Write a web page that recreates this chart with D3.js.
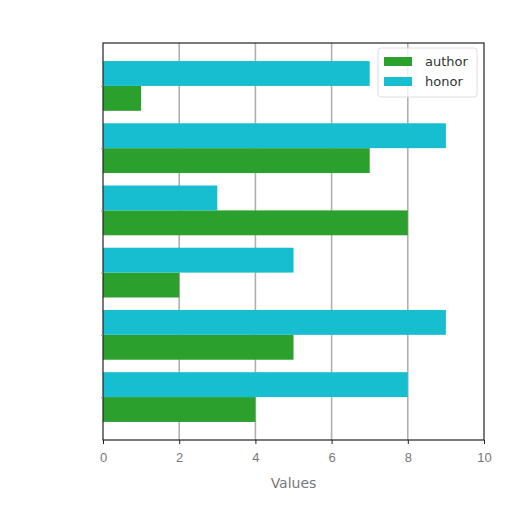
<!DOCTYPE html>
<html>
<head>
<meta charset="utf-8">
<script src="https://cdn.jsdelivr.net/npm/d3@7"></script>
<style>
  body { margin: 0; background: #fff; }
  svg { display: block; font-family: "DejaVu Sans", sans-serif; }
</style>
</head>
<body>
<div class="chart"></div>
<script>
// categories from bottom (index 0) to top
const categories = ["c0", "c1", "c2", "c3", "c4", "c5"];
const authorValues = [4, 5, 2, 8, 7, 1];
const honorValues = [8, 9, 5, 3, 9, 7];
const xTicks = [0, 2, 4, 6, 8, 10];
const seriesNames = ["author", "honor"];
const seriesColors = ["#2ca02c", "#17becf"];

const margin = {top: 43, right: 28, bottom: 72, left: 103};
const width = 512 - margin.left - margin.right,
      height = 512 - margin.top - margin.bottom;

const svg = d3.select(".chart").append("svg")
  .attr("width", 512)
  .attr("height", 512);

const g = svg.append("g")
  .attr("transform", "translate(" + margin.left + "," + margin.top + ")");

const x = d3.scaleLinear().domain([0, 10]).range([0, width]);
// matplotlib style: positions -0.4 .. n-0.6 with 5% margins
const n = categories.length;
const lo = -0.4, hi = n - 1 + 0.4, pad = (hi - lo) * 0.05;
const y = d3.scaleLinear().domain([lo - pad, hi + pad]).range([height, 0]);
const barH = 0.4;

// grid
g.selectAll(".grid")
  .data(xTicks.slice(1, -1))
  .enter().append("line")
  .attr("x1", d => x(d)).attr("x2", d => x(d))
  .attr("y1", 0).attr("y2", height)
  .style("stroke", "#b0b0b0")
  .style("stroke-width", 1.6);

const rows = categories.map((c, i) => ({i: i, author: authorValues[i], honor: honorValues[i]}));

// author (lower half of each group)
g.selectAll(".author")
  .data(rows)
  .enter().append("rect")
  .attr("x", x(0))
  .attr("y", d => y(d.i))
  .attr("width", d => x(d.author) - x(0))
  .attr("height", d => y(d.i - barH) - y(d.i))
  .style("fill", seriesColors[0]);

// honor (upper half)
g.selectAll(".honor")
  .data(rows)
  .enter().append("rect")
  .attr("x", x(0))
  .attr("y", d => y(d.i + barH))
  .attr("width", d => x(d.honor) - x(0))
  .attr("height", d => y(d.i) - y(d.i + barH))
  .style("fill", seriesColors[1]);

// frame
g.append("rect")
  .attr("width", width).attr("height", height)
  .style("fill", "none")
  .style("stroke", "#222")
  .style("stroke-width", 1.2);

// x axis
const xAxis = g.append("g")
  .attr("transform", "translate(0," + height + ")")
  .call(d3.axisBottom(x).tickValues(xTicks).tickSize(4).tickPadding(9));
xAxis.select(".domain").remove();
xAxis.selectAll("line").style("stroke", "#222");
xAxis.selectAll("text")
  .style("font-size", "13px")
  .style("fill", "#777");

// y ticks without labels
const yAxis = g.append("g")
  .call(d3.axisLeft(y).tickValues(d3.range(n)).tickSize(2).tickFormat(""));
yAxis.select(".domain").remove();
yAxis.selectAll("line").style("stroke", "#999");

g.append("text")
  .attr("x", width / 2)
  .attr("y", height + 48)
  .attr("text-anchor", "middle")
  .style("font-size", "14px")
  .style("fill", "#777")
  .text("Values");

// legend
const legend = g.append("g").attr("transform", "translate(" + (width - 106) + ",5)");
legend.append("rect")
  .attr("width", 99).attr("height", 49)
  .attr("rx", 3)
  .style("fill", "#fff").style("fill-opacity", 0.8)
  .style("stroke", "#ddd");
seriesNames.forEach((s, i) => {
  legend.append("rect")
    .attr("x", 6).attr("y", 9 + i * 20)
    .attr("width", 28).attr("height", 9)
    .style("fill", seriesColors[i]);
  legend.append("text")
    .attr("x", 47).attr("y", 18 + i * 20)
    .style("font-size", "13px")
    .style("fill", "#333")
    .text(s);
});
</script>
</body>
</html>
